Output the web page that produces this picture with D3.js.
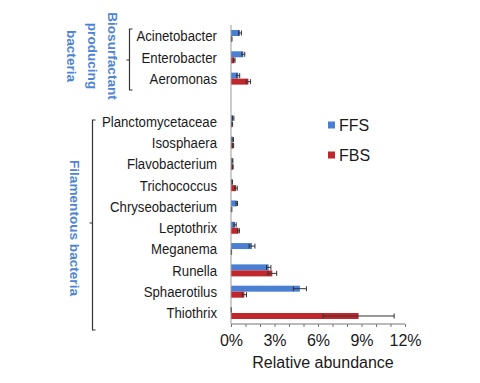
<!DOCTYPE html>
<html><head><meta charset="utf-8">
<script src="https://cdn.jsdelivr.net/npm/d3@7"></script>
<style>
html,body{margin:0;padding:0;background:#fff;}
text{font-family:"Liberation Sans",Arial,sans-serif;}
</style></head>
<body><svg id="c" width="480" height="383"></svg>
<script>
const bioCategories = ["Acinetobacter","Enterobacter","Aeromonas"];
const filCategories = ["Planctomycetaceae","Isosphaera","Flavobacterium","Trichococcus","Chryseobacterium","Leptothrix","Meganema","Runella","Sphaerotilus","Thiothrix"];
const categories = [...bioCategories, ...filCategories];
const ffsValues = [0.62,0.85,0.50, 0.15,0.12,0.10,0.08,0.40,0.28,1.45,2.60,4.75,0.02];
const ffsErrors = [0.10,0.10,0.10, 0.05,0.05,0.03,0.02,0.05,0.08,0.20,0.15,0.45,0.01];
const fbsValues = [0.05,0.23,1.20, 0.08,0.15,0.12,0.35,0.04,0.52,0.03,2.85,0.92,8.80];
const fbsErrors = [0.02,0.05,0.15, 0.03,0.03,0.03,0.08,0.02,0.06,0.01,0.30,0.15,2.45];
const xTicks = [0,3,6,9,12];
const seriesNames = ["FFS","FBS"];
const colors = ["#4a7fd2","#c0272d"];
const groupLabels = [["Biosurfactant","producing","bacteria"],["Filamentous bacteria"]];

const svg = d3.select("#c");
const rows = [...bioCategories, "__gap", ...filCategories];
const y = d3.scaleBand().domain(rows).range([25.35, 323.65]);
const x = d3.scaleLinear().domain([0,12]).range([231, 405]);
const barH = 6;

const series = [
  {name: seriesNames[0], vals: ffsValues, errs: ffsErrors, color: colors[0], off: -barH},
  {name: seriesNames[1], vals: fbsValues, errs: fbsErrors, color: colors[1], off: 0}
];
const cy = c => y(c) + y.bandwidth()/2;

series.forEach(s => {
  const g = svg.append("g");
  g.selectAll("rect").data(categories).join("rect")
    .attr("x", x(0)).attr("y", (c) => cy(c) + s.off)
    .attr("width", (c,i) => x(s.vals[i]) - x(0))
    .attr("height", barH).attr("fill", s.color);
});
series.forEach(s => {
  const g = svg.append("g").attr("stroke", "#333").attr("stroke-width", 1);
  categories.forEach((c,i) => {
    const yc = cy(c) + s.off + barH/2;
    const lo = x(Math.max(0, s.vals[i]-s.errs[i])), hi = x(s.vals[i]+s.errs[i]);
    g.append("line").attr("x1", lo).attr("x2", hi).attr("y1", yc).attr("y2", yc);
    g.append("line").attr("x1", hi).attr("x2", hi).attr("y1", yc-2.5).attr("y2", yc+2.5);
    g.append("line").attr("x1", lo).attr("x2", lo).attr("y1", yc-2.5).attr("y2", yc+2.5);
  });
});

// axes
const axisY = 324;
const xAxis = d3.axisBottom(x).tickValues(d3.range(0,13,1)).tickSize(3).tickFormat(d => xTicks.includes(d) ? d + "%" : "");
const ax = svg.append("g").attr("transform", `translate(0,${axisY})`).call(xAxis);
ax.select(".domain").attr("stroke", "#777").attr("d", `M${x(0)},0H${x(12)}`);
ax.selectAll(".tick line").attr("stroke", "#777");
ax.selectAll(".tick text").attr("font-size", 16).attr("fill", "#1a1a1a").attr("y", 11).attr("dy", "0.71em")
  .attr("font-family", '"Liberation Sans",Arial,sans-serif');
svg.append("line").attr("x1", x(0)).attr("x2", x(0)).attr("y1", 25).attr("y2", axisY).attr("stroke", "#999").attr("stroke-width", 1);
svg.append("text").attr("x", 323).attr("y", 368).attr("text-anchor", "middle").attr("font-size", 16).attr("fill", "#1a1a1a").text("Relative abundance");

// category labels
svg.append("g").selectAll("text").data(categories).join("text")
  .attr("transform", c => `translate(217,${cy(c)}) scale(0.88,1)`)
  .attr("dy", "0.36em")
  .attr("text-anchor", "end").attr("font-size", 15).attr("fill", "#1a1a1a")
  .text(c => c);

// brackets
function bracket(xb, y1, y2, ym) {
  svg.append("path").attr("d", `M${xb+3},${y1}H${xb}V${y2}H${xb+3}M${xb},${ym}H${xb-3}`)
    .attr("fill", "none").attr("stroke", "#333").attr("stroke-width", 1.2);
}
bracket(129.5, 29, 90, 60);
bracket(92.5, 120, 330, 223);

// group labels
const lab = svg.append("g").attr("fill", "#4f84d4").attr("font-weight", "bold").attr("font-size", 13.6);
[108, 88, 67].forEach((tx, i) => {
  lab.append("text").attr("transform", `translate(${tx},56) rotate(90)`).attr("text-anchor", "middle").text(groupLabels[0][i]);
});
lab.append("text").attr("transform", `translate(70,228) rotate(90)`).attr("text-anchor", "middle").text(groupLabels[1][0]);

// legend
const leg = svg.append("g");
series.forEach((s, i) => {
  const ly = 125 + i*30;
  leg.append("rect").attr("x", 328).attr("y", ly-3.5).attr("width", 7).attr("height", 7).attr("fill", s.color);
  leg.append("text").attr("x", 339).attr("y", ly).attr("dy", "0.36em").attr("font-size", 16).attr("fill", "#1a1a1a").text(s.name);
});
</script></body></html>
